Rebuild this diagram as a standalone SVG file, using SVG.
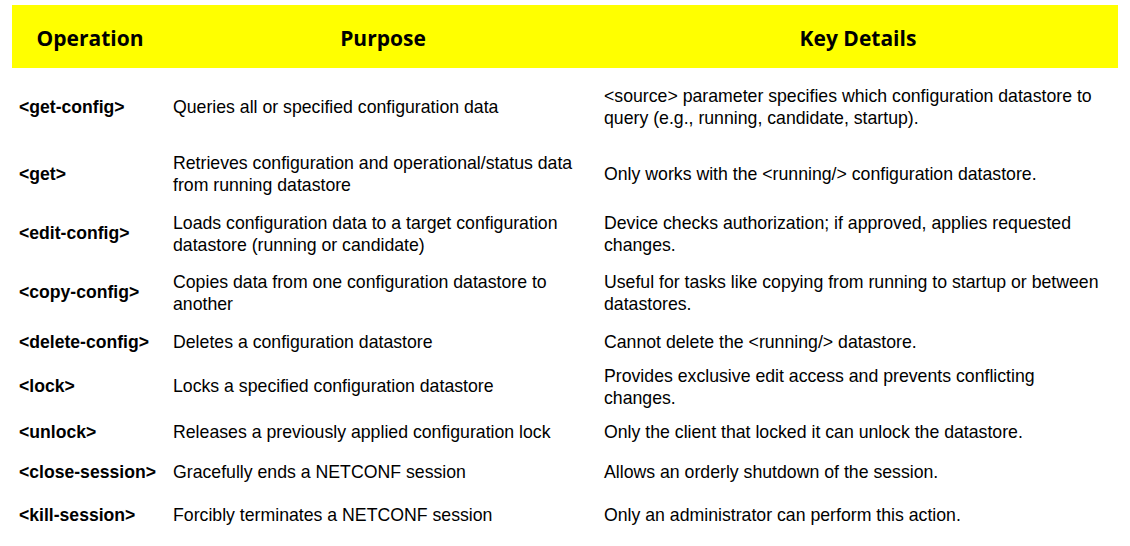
<svg xmlns="http://www.w3.org/2000/svg" width="1130" height="546" viewBox="0 0 1130 546">
<style>
.h{font-family:"Open Sans","Liberation Sans",sans-serif;font-weight:bold;font-size:21px;fill:#000;text-anchor:middle}
.o{font-family:"Liberation Sans",Arial,sans-serif;font-weight:bold;font-size:17.6px;fill:#000}
.t{font-family:"Liberation Sans",Arial,sans-serif;font-size:17.7px;fill:#000}
</style>
<rect width="1130" height="546" fill="#fff"/>
<g id="header">
<rect x="12" y="5" width="1106" height="63" fill="#ffff00"/>
<text class="h" x="90" y="46">Operation</text>
<text class="h" x="383" y="46">Purpose</text>
<text class="h" x="858" y="46">Key Details</text>
</g>
<g id="rows">
<g id="r1"><text class="o" x="19" y="113">&lt;get-config&gt;</text><text class="t" x="173" y="113">Queries all or specified configuration data</text><text class="t" x="604" y="102">&lt;source&gt; parameter specifies which configuration datastore to</text><text class="t" x="604" y="124">query (e.g., running, candidate, startup).</text></g>
<g id="r2"><text class="o" x="19" y="180">&lt;get&gt;</text><text class="t" x="173" y="169">Retrieves configuration and operational/status data</text><text class="t" x="173" y="191">from running datastore</text><text class="t" x="604" y="180">Only works with the &lt;running/&gt; configuration datastore.</text></g>
<g id="r3"><text class="o" x="19" y="239">&lt;edit-config&gt;</text><text class="t" x="173" y="229">Loads configuration data to a target configuration</text><text class="t" x="173" y="251">datastore (running or candidate)</text><text class="t" x="604" y="229">Device checks authorization; if approved, applies requested</text><text class="t" x="604" y="251">changes.</text></g>
<g id="r4"><text class="o" x="19" y="298">&lt;copy-config&gt;</text><text class="t" x="173" y="288">Copies data from one configuration datastore to</text><text class="t" x="173" y="310">another</text><text class="t" x="604" y="288">Useful for tasks like copying from running to startup or between</text><text class="t" x="604" y="310">datastores.</text></g>
<g id="r5"><text class="o" x="19" y="348">&lt;delete-config&gt;</text><text class="t" x="173" y="348">Deletes a configuration datastore</text><text class="t" x="604" y="348">Cannot delete the &lt;running/&gt; datastore.</text></g>
<g id="r6"><text class="o" x="19" y="392">&lt;lock&gt;</text><text class="t" x="173" y="392">Locks a specified configuration datastore</text><text class="t" x="604" y="382">Provides exclusive edit access and prevents conflicting</text><text class="t" x="604" y="404">changes.</text></g>
<g id="r7"><text class="o" x="19" y="438">&lt;unlock&gt;</text><text class="t" x="173" y="438">Releases a previously applied configuration lock</text><text class="t" x="604" y="438">Only the client that locked it can unlock the datastore.</text></g>
<g id="r8"><text class="o" x="19" y="478">&lt;close-session&gt;</text><text class="t" x="173" y="478">Gracefully ends a NETCONF session</text><text class="t" x="604" y="478">Allows an orderly shutdown of the session.</text></g>
<g id="r9"><text class="o" x="19" y="521">&lt;kill-session&gt;</text><text class="t" x="173" y="521">Forcibly terminates a NETCONF session</text><text class="t" x="604" y="521">Only an administrator can perform this action.</text></g>
</g>
</svg>
